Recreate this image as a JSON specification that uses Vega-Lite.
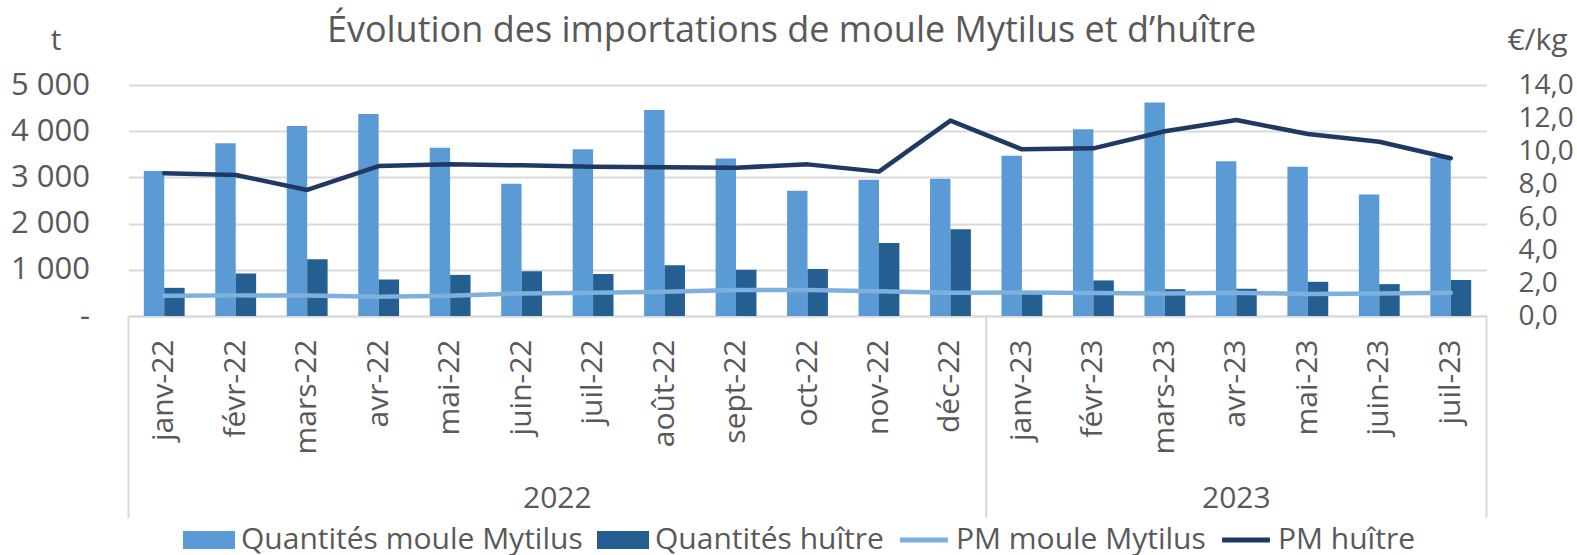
{
  "$schema": "https://vega.github.io/schema/vega-lite/v6.json",
  "width": 1358,
  "height": 231,
  "autosize": {"type": "none"},
  "padding": {"left": 128.5, "top": 85, "right": 90.5, "bottom": 239},
  "title": {
    "text": "Évolution des importations de moule Mytilus et d’huître",
    "fontSize": 36, "font": "Open Sans", "fontWeight": "normal", "color": "#595959",
    "anchor": "middle", "frame": "group", "baseline": "alphabetic", "offset": -53, "dx": -16
  },
  "config": {"font": "Open Sans", "view": {"stroke": null}},
  "datasets": {
    "qty": [
      {"mois": "janv-22", "serie": "Quantités moule Mytilus", "t": 3140},
      {"mois": "févr-22", "serie": "Quantités moule Mytilus", "t": 3740},
      {"mois": "mars-22", "serie": "Quantités moule Mytilus", "t": 4110},
      {"mois": "avr-22", "serie": "Quantités moule Mytilus", "t": 4370},
      {"mois": "mai-22", "serie": "Quantités moule Mytilus", "t": 3640},
      {"mois": "juin-22", "serie": "Quantités moule Mytilus", "t": 2860},
      {"mois": "juil-22", "serie": "Quantités moule Mytilus", "t": 3610},
      {"mois": "août-22", "serie": "Quantités moule Mytilus", "t": 4460},
      {"mois": "sept-22", "serie": "Quantités moule Mytilus", "t": 3410},
      {"mois": "oct-22", "serie": "Quantités moule Mytilus", "t": 2710},
      {"mois": "nov-22", "serie": "Quantités moule Mytilus", "t": 2950},
      {"mois": "déc-22", "serie": "Quantités moule Mytilus", "t": 2970},
      {"mois": "janv-23", "serie": "Quantités moule Mytilus", "t": 3470},
      {"mois": "févr-23", "serie": "Quantités moule Mytilus", "t": 4040},
      {"mois": "mars-23", "serie": "Quantités moule Mytilus", "t": 4620},
      {"mois": "avr-23", "serie": "Quantités moule Mytilus", "t": 3350},
      {"mois": "mai-23", "serie": "Quantités moule Mytilus", "t": 3230},
      {"mois": "juin-23", "serie": "Quantités moule Mytilus", "t": 2630},
      {"mois": "juil-23", "serie": "Quantités moule Mytilus", "t": 3430},
      {"mois": "janv-22", "serie": "Quantités huître", "t": 610},
      {"mois": "févr-22", "serie": "Quantités huître", "t": 920},
      {"mois": "mars-22", "serie": "Quantités huître", "t": 1230},
      {"mois": "avr-22", "serie": "Quantités huître", "t": 790},
      {"mois": "mai-22", "serie": "Quantités huître", "t": 890},
      {"mois": "juin-22", "serie": "Quantités huître", "t": 970},
      {"mois": "juil-22", "serie": "Quantités huître", "t": 910},
      {"mois": "août-22", "serie": "Quantités huître", "t": 1100},
      {"mois": "sept-22", "serie": "Quantités huître", "t": 1000},
      {"mois": "oct-22", "serie": "Quantités huître", "t": 1020},
      {"mois": "nov-22", "serie": "Quantités huître", "t": 1580},
      {"mois": "déc-22", "serie": "Quantités huître", "t": 1880},
      {"mois": "janv-23", "serie": "Quantités huître", "t": 480},
      {"mois": "févr-23", "serie": "Quantités huître", "t": 770},
      {"mois": "mars-23", "serie": "Quantités huître", "t": 580},
      {"mois": "avr-23", "serie": "Quantités huître", "t": 590},
      {"mois": "mai-23", "serie": "Quantités huître", "t": 740},
      {"mois": "juin-23", "serie": "Quantités huître", "t": 690},
      {"mois": "juil-23", "serie": "Quantités huître", "t": 780}
    ],
    "pm": [
      {"mois": "janv-22", "serie": "PM moule Mytilus", "eur": 1.23},
      {"mois": "févr-22", "serie": "PM moule Mytilus", "eur": 1.25},
      {"mois": "mars-22", "serie": "PM moule Mytilus", "eur": 1.24},
      {"mois": "avr-22", "serie": "PM moule Mytilus", "eur": 1.17},
      {"mois": "mai-22", "serie": "PM moule Mytilus", "eur": 1.23},
      {"mois": "juin-22", "serie": "PM moule Mytilus", "eur": 1.37},
      {"mois": "juil-22", "serie": "PM moule Mytilus", "eur": 1.41},
      {"mois": "août-22", "serie": "PM moule Mytilus", "eur": 1.47},
      {"mois": "sept-22", "serie": "PM moule Mytilus", "eur": 1.58},
      {"mois": "oct-22", "serie": "PM moule Mytilus", "eur": 1.58},
      {"mois": "nov-22", "serie": "PM moule Mytilus", "eur": 1.50},
      {"mois": "déc-22", "serie": "PM moule Mytilus", "eur": 1.41},
      {"mois": "janv-23", "serie": "PM moule Mytilus", "eur": 1.43},
      {"mois": "févr-23", "serie": "PM moule Mytilus", "eur": 1.39},
      {"mois": "mars-23", "serie": "PM moule Mytilus", "eur": 1.36},
      {"mois": "avr-23", "serie": "PM moule Mytilus", "eur": 1.41},
      {"mois": "mai-23", "serie": "PM moule Mytilus", "eur": 1.33},
      {"mois": "juin-23", "serie": "PM moule Mytilus", "eur": 1.37},
      {"mois": "juil-23", "serie": "PM moule Mytilus", "eur": 1.41},
      {"mois": "janv-22", "serie": "PM huître", "eur": 8.65},
      {"mois": "févr-22", "serie": "PM huître", "eur": 8.55},
      {"mois": "mars-22", "serie": "PM huître", "eur": 7.64},
      {"mois": "avr-22", "serie": "PM huître", "eur": 9.09},
      {"mois": "mai-22", "serie": "PM huître", "eur": 9.19},
      {"mois": "juin-22", "serie": "PM huître", "eur": 9.13},
      {"mois": "juil-22", "serie": "PM huître", "eur": 9.05},
      {"mois": "août-22", "serie": "PM huître", "eur": 9.01},
      {"mois": "sept-22", "serie": "PM huître", "eur": 8.99},
      {"mois": "oct-22", "serie": "PM huître", "eur": 9.19},
      {"mois": "nov-22", "serie": "PM huître", "eur": 8.75},
      {"mois": "déc-22", "serie": "PM huître", "eur": 11.84},
      {"mois": "janv-23", "serie": "PM huître", "eur": 10.10},
      {"mois": "févr-23", "serie": "PM huître", "eur": 10.16},
      {"mois": "mars-23", "serie": "PM huître", "eur": 11.20},
      {"mois": "avr-23", "serie": "PM huître", "eur": 11.88},
      {"mois": "mai-23", "serie": "PM huître", "eur": 11.03},
      {"mois": "juin-23", "serie": "PM huître", "eur": 10.56},
      {"mois": "juil-23", "serie": "PM huître", "eur": 9.56}
    ]
  },
  "layer": [
    {
      "layer": [
        {
          "data": {"name": "qty"},
          "mark": {"type": "bar"},
          "encoding": {
            "x": {
              "field": "mois", "type": "nominal",
              "sort": ["janv-22","févr-22","mars-22","avr-22","mai-22","juin-22","juil-22","août-22","sept-22","oct-22","nov-22","déc-22","janv-23","févr-23","mars-23","avr-23","mai-23","juin-23","juil-23"],
              "scale": {"paddingInner": 0, "paddingOuter": 0},
              "axis": {
                "title": null, "labelAngle": -90, "labelAlign": "right", "labelBaseline": "middle",
                "labelFontSize": 30, "labelColor": "#595959", "labelPadding": 23,
                "ticks": false, "tickSize": 0, "domainColor": "#D9D9D9", "domainWidth": 2
              }
            },
            "xOffset": {
              "field": "serie", "type": "nominal",
              "sort": ["Quantités moule Mytilus", "Quantités huître"],
              "scale": {"paddingInner": 0, "paddingOuter": 0.75}
            },
            "y": {
              "field": "t", "type": "quantitative",
              "scale": {"domain": [0, 5000], "nice": false},
              "axis": {
                "values": [0, 1000, 2000, 3000, 4000, 5000],
                "labelExpr": "datum.value == 0 ? '-\u00a0\u00a0' : replace(format(datum.value, ','), ',', '\u00a0')",
                "grid": true, "gridColor": "#D9D9D9", "gridWidth": 2,
                "domain": false, "ticks": false, "labelPadding": 39,
                "labelFontSize": 31, "labelColor": "#595959",
                "title": "t", "titleAngle": 0, "titleX": -73, "titleY": -36,
                "titleAlign": "center", "titleBaseline": "alphabetic",
                "titleFontSize": 30, "titleFontWeight": "normal", "titleColor": "#595959"
              }
            },
            "color": {
              "field": "serie", "type": "nominal",
              "scale": {
                "domain": ["Quantités moule Mytilus", "Quantités huître", "PM moule Mytilus", "PM huître"],
                "range": ["#5B9BD5", "#255E91", "#7EB0DE", "#203864"]
              },
              "legend": {
                "title": null, "orient": "none", "direction": "horizontal",
                "legendX": 54.5, "legendY": 429, "padding": 0,
                "symbolSize": 2704, "labelFontSize": 30, "labelColor": "#595959",
                "labelOffset": 6, "columnPadding": 14, "labelLimit": 0,
                "encode": {
                  "symbols": {
                    "update": {
                      "shape": {"signal": "indexof(['PM moule Mytilus','PM huître'], datum.value) >= 0 ? 'M-0.92,-0.1H0.92V0.1H-0.92Z' : 'M-1,-0.35H1V0.35H-1Z'"},
                      "fill": {"signal": "scale('color', datum.value)"},
                      "strokeWidth": {"value": 0},
                      "opacity": {"value": 1},
                      "fillOpacity": {"value": 1}
                    }
                  }
                }
              }
            }
          }
        },
        {
          "data": {"values": [{"mois": "janv-22"}, {"mois": "janv-23"}]},
          "mark": {"type": "rule", "color": "#D9D9D9", "strokeWidth": 2},
          "encoding": {
            "x": {"field": "mois", "type": "nominal", "bandPosition": 0,
              "sort": ["janv-22","févr-22","mars-22","avr-22","mai-22","juin-22","juil-22","août-22","sept-22","oct-22","nov-22","déc-22","janv-23","févr-23","mars-23","avr-23","mai-23","juin-23","juil-23"]},
            "y": {"datum": 0},
            "y2": {"datum": -4372}
          }
        },
        {
          "data": {"values": [{"mois": "juil-23"}]},
          "mark": {"type": "rule", "color": "#D9D9D9", "strokeWidth": 2},
          "encoding": {
            "x": {"field": "mois", "type": "nominal", "bandPosition": 1,
              "sort": ["janv-22","févr-22","mars-22","avr-22","mai-22","juin-22","juil-22","août-22","sept-22","oct-22","nov-22","déc-22","janv-23","févr-23","mars-23","avr-23","mai-23","juin-23","juil-23"]},
            "y": {"datum": 0},
            "y2": {"datum": -4372}
          }
        },
        {
          "data": {"values": [{"mois": "juil-22", "annee": "2022"}]},
          "mark": {"type": "text", "fontSize": 30, "color": "#595959", "baseline": "middle", "align": "center"},
          "encoding": {
            "x": {"field": "mois", "type": "nominal", "bandPosition": 0,
              "sort": ["janv-22","févr-22","mars-22","avr-22","mai-22","juin-22","juil-22","août-22","sept-22","oct-22","nov-22","déc-22","janv-23","févr-23","mars-23","avr-23","mai-23","juin-23","juil-23"]},
            "y": {"datum": -3961},
            "text": {"field": "annee"}
          }
        },
        {
          "data": {"values": [{"mois": "avr-23", "annee": "2023"}]},
          "mark": {"type": "text", "fontSize": 30, "color": "#595959", "baseline": "middle", "align": "center"},
          "encoding": {
            "x": {"field": "mois", "type": "nominal", "bandPosition": 0.5,
              "sort": ["janv-22","févr-22","mars-22","avr-22","mai-22","juin-22","juil-22","août-22","sept-22","oct-22","nov-22","déc-22","janv-23","févr-23","mars-23","avr-23","mai-23","juin-23","juil-23"]},
            "y": {"datum": -3961},
            "text": {"field": "annee"}
          }
        }
      ]
    },
    {
      "data": {"name": "pm"},
      "mark": {"type": "line", "strokeWidth": 4.5, "strokeCap": "round", "strokeJoin": "round"},
      "encoding": {
        "x": {"field": "mois", "type": "nominal",
          "sort": ["janv-22","févr-22","mars-22","avr-22","mai-22","juin-22","juil-22","août-22","sept-22","oct-22","nov-22","déc-22","janv-23","févr-23","mars-23","avr-23","mai-23","juin-23","juil-23"]},
        "y": {
          "field": "eur", "type": "quantitative",
          "scale": {"domain": [0, 14], "nice": false},
          "axis": {
            "orient": "right",
            "values": [0, 2, 4, 6, 8, 10, 12, 14],
            "labelExpr": "replace(format(datum.value, '.1f'), '.', ',')",
            "grid": false, "domain": false, "ticks": false, "labelPadding": 31.5,
            "labelFontSize": 28, "labelColor": "#595959",
            "title": "€/kg", "titleAngle": 0, "titleX": 50.5, "titleY": -36,
            "titleAlign": "center", "titleBaseline": "alphabetic",
            "titleFontSize": 30, "titleFontWeight": "normal", "titleColor": "#595959"
          }
        },
        "color": {
          "field": "serie", "type": "nominal",
          "scale": {
            "domain": ["Quantités moule Mytilus", "Quantités huître", "PM moule Mytilus", "PM huître"],
            "range": ["#5B9BD5", "#255E91", "#7EB0DE", "#203864"]
          }
        }
      }
    }
  ],
  "resolve": {"scale": {"y": "independent"}}
}
